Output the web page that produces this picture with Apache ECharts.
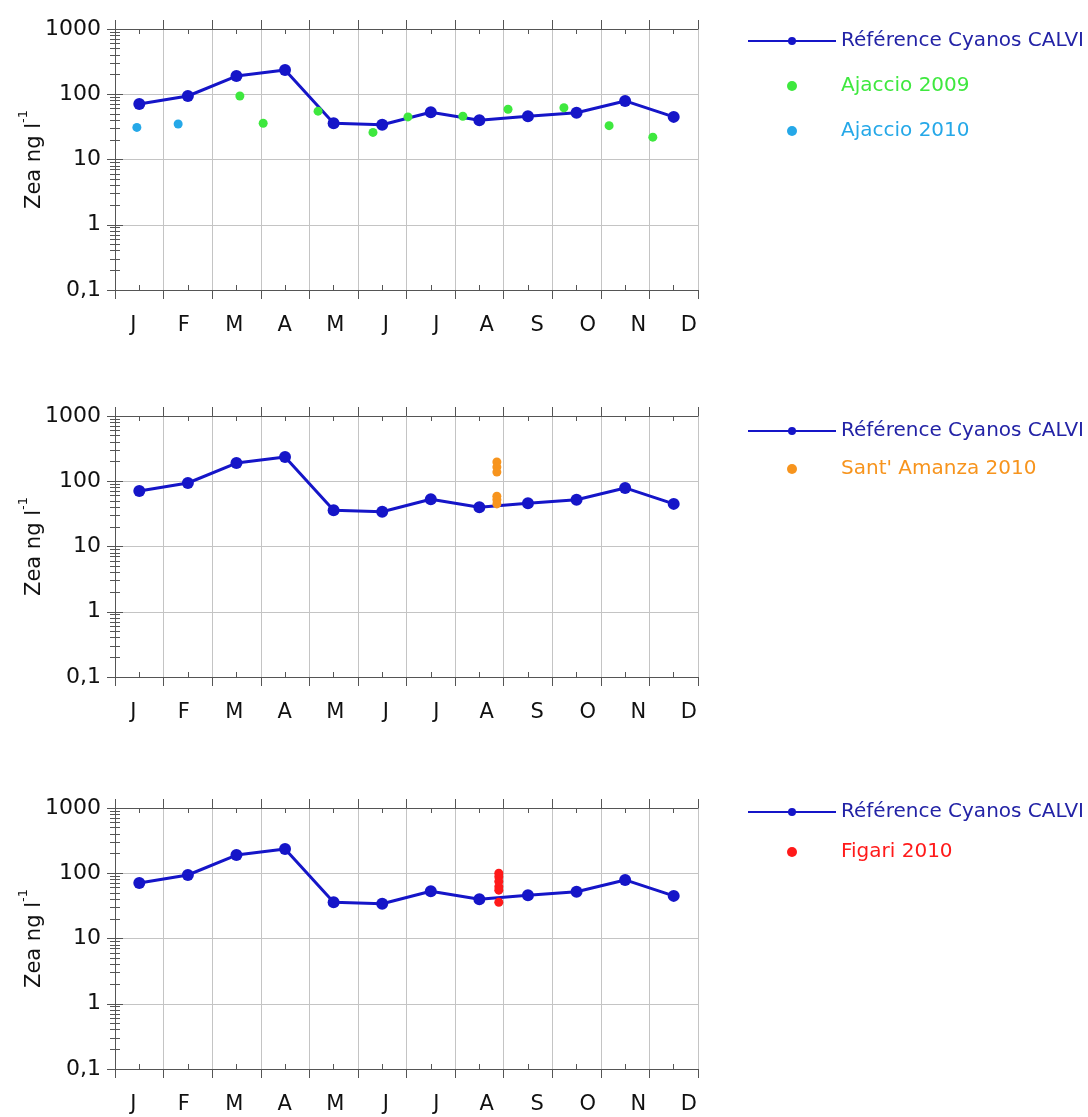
<!DOCTYPE html>
<html>
<head>
<meta charset="utf-8">
<script src="https://cdn.jsdelivr.net/npm/echarts@6/dist/echarts.min.js"></script>
<style>
  html, body { margin: 0; background: #fff; }
  #chart { width: 1088px; height: 1117px; }
</style>
</head>
<body>
<div id="chart"></div>
<script>
// month labels and y tick labels
var months = ["J", "F", "M", "A", "M", "J", "J", "A", "S", "O", "N", "D"];
var yTickValues = [0.1, 1, 10, 100, 1000];
var yTickLabels = ["0,1", "1", "10", "100", "1000"];

// reference series (mid-month)
var refX = [0.5, 1.5, 2.5, 3.5, 4.5, 5.5, 6.5, 7.5, 8.5, 9.5, 10.5, 11.5];
var refValues = [71, 94, 190, 235, 36, 34, 53, 40, 46, 52, 79, 45];

// panel 1 points
var ajaccio2009X = [2.57, 3.05, 4.18, 5.31, 6.03, 7.16, 8.09, 9.24, 10.17, 11.07];
var ajaccio2009Values = [94, 36, 55, 26, 45, 46, 59, 62, 33, 22];
var ajaccio2010X = [0.45, 1.3];
var ajaccio2010Values = [31, 35];

// panel 2 points
var santAmanzaX = [7.86, 7.86, 7.86, 7.86, 7.86, 7.86];
var santAmanzaValues = [197, 165, 138, 59, 52, 45];

// panel 3 points
var figariX = [7.9, 7.9, 7.9, 7.9, 7.9, 7.9];
var figariValues = [100, 88, 75, 62, 55, 36];

var REF_NAME = "Référence Cyanos CALVI";
var FONT = "DejaVu Sans";

function pairs(xs, ys) {
  return xs.map(function (x, i) { return [x, ys[i]]; });
}

var panels = [
  {
    top: 29, legendTop: 26, legendGap: 25,
    extra: [
      { name: "Ajaccio 2009", color: "#3ee83e", data: pairs(ajaccio2009X, ajaccio2009Values) },
      { name: "Ajaccio 2010", color: "#25a8e8", data: pairs(ajaccio2010X, ajaccio2010Values) }
    ]
  },
  {
    top: 416, legendTop: 416, legendGap: 18,
    extra: [
      { name: "Sant' Amanza 2010", color: "#f7941d", data: pairs(santAmanzaX, santAmanzaValues) }
    ]
  },
  {
    top: 808, legendTop: 797, legendGap: 20,
    extra: [
      { name: "Figari 2010", color: "#ff1a1a", data: pairs(figariX, figariValues) }
    ]
  }
];

var grid = [], xAxis = [], yAxis = [], series = [], legend = [];
var plotH = 261;

panels.forEach(function (p, k) {
  var g = grid.length;
  grid.push({ left: 115, right: 390, top: p.top, height: plotH, outerBoundsMode: "none" });
  var gl = grid.length;
  grid.push({ left: 108, right: 374, top: p.top, height: plotH, outerBoundsMode: "none" });

  // value x axis (data), with gridlines and outside ticks
  var xi = xAxis.length;
  xAxis.push({
    type: "value", gridIndex: g, position: "bottom", min: 0, max: 12, interval: 1,
    axisLine: { show: true, lineStyle: { color: "#555", width: 1 } },
    axisTick: { show: true, inside: false, length: 9, lineStyle: { color: "#555" } },
    axisLabel: { show: false },
    splitLine: { show: true, lineStyle: { color: "#c4c4c4", width: 1 } }
  });
  xAxis.push({
    type: "value", gridIndex: g, position: "top", min: 0, max: 12, interval: 1,
    axisLine: { show: true, lineStyle: { color: "#555", width: 1 } },
    axisTick: { show: true, inside: false, length: 9, lineStyle: { color: "#555" } },
    axisLabel: { show: false },
    splitLine: { show: false }
  });
  // mid-month inside ticks, bottom and top
  ["bottom", "top"].forEach(function (pos) {
    xAxis.push({
      type: "category", gridIndex: g, position: pos, data: months, boundaryGap: true,
      axisLine: { show: false },
      axisTick: { show: true, inside: true, alignWithLabel: true, length: 5, lineStyle: { color: "#555" } },
      axisLabel: { show: false },
      splitLine: { show: false }
    });
  });
  // month labels
  xAxis.push({
    type: "category", gridIndex: gl, position: "bottom", data: months, boundaryGap: true,
    axisLine: { show: false }, axisTick: { show: false }, splitLine: { show: false },
    axisLabel: { show: true, margin: 25, color: "#111", fontFamily: FONT, fontSize: 21 }
  });

  var yi = yAxis.length;
  var logAxis = {
    type: "log", logBase: 10, gridIndex: g, min: 0.1, max: 1000, splitNumber: 4,
    axisLine: { show: true, lineStyle: { color: "#555", width: 1 } },
    axisTick: { show: true, inside: true, length: 8, lineStyle: { color: "#555" } },
    minorTick: { show: true, splitNumber: 9, length: 5, lineStyle: { color: "#555" } },
    splitLine: { show: true, lineStyle: { color: "#c4c4c4", width: 1 } }
  };
  yAxis.push(Object.assign({}, logAxis, {
    position: "left",
    name: "{a|Zea ng l}{b|-1}",
    nameLocation: "middle",
    nameGap: 70,
    nameMoveOverlap: false,
    nameTextStyle: {
      color: "#111",
      rich: {
        a: { fontFamily: FONT, fontSize: 21, color: "#111", lineHeight: 28, verticalAlign: "bottom" },
        b: { fontFamily: FONT, fontSize: 13, color: "#111", lineHeight: 28, verticalAlign: "top" }
      }
    },
    axisLabel: {
      show: true, margin: 14, color: "#111", fontFamily: FONT, fontSize: 22,
      formatter: function (v) {
        var i = yTickValues.findIndex(function (t) { return Math.abs(t - v) / t < 1e-6; });
        return i >= 0 ? yTickLabels[i] : "";
      }
    }
  }));
  yAxis.push(Object.assign({}, logAxis, {
    position: "right",
    axisLabel: { show: false },
    splitLine: { show: false }
  }));
  yAxis.push({ type: "value", gridIndex: gl, show: false });

  series.push({
    name: REF_NAME, type: "line", xAxisIndex: xi, yAxisIndex: yi,
    data: pairs(refX, refValues),
    symbol: "circle", symbolSize: 12,
    lineStyle: { color: "#1515c8", width: 3 },
    itemStyle: { color: "#1515c8" },
    z: 3
  });
  p.extra.forEach(function (e) {
    series.push({
      name: e.name, type: "scatter", xAxisIndex: xi, yAxisIndex: yi,
      data: e.data, symbol: "circle", symbolSize: 9,
      itemStyle: { color: e.color, opacity: 1 },
      z: 4
    });
  });

  var ldata = [{ name: REF_NAME, textStyle: { color: "#2323a6" } }];
  p.extra.forEach(function (e) {
    ldata.push({ name: e.name, icon: "circle", textStyle: { color: e.color } });
  });
  legend.push({
    left: 742, top: p.legendTop, orient: "vertical",
    itemWidth: 88, itemHeight: 10, itemGap: p.legendGap,
    selectedMode: false,
    textStyle: { fontFamily: FONT, fontSize: 20 },
    data: ldata
  });
});

var myChart = echarts.init(document.getElementById("chart"));
myChart.setOption({
  backgroundColor: "#fff",
  animation: false,
  grid: grid,
  xAxis: xAxis,
  yAxis: yAxis,
  legend: legend,
  series: series
});
</script>
</body>
</html>
